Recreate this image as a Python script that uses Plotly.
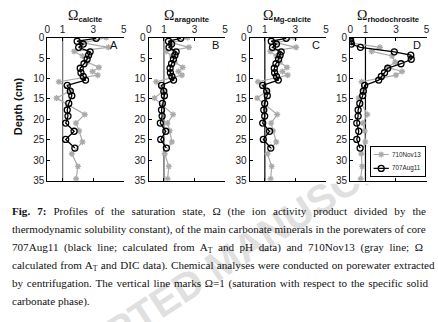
import plotly.graph_objects as go

# Depths (cm) of the two porewater profiles
depth_707 = [0.2, 0.9, 1.6, 2.4, 3.5, 4.3, 5.3, 6.4, 7.5, 8.6, 9.5, 10.4,
             11.7, 13.1, 14.2, 16.1, 17.7, 19.2, 20.9, 22.9, 24.9, 27.0]
depth_710 = [0.0, 1.3, 2.4, 3.4, 4.5, 6.0, 7.3, 8.3, 9.2, 10.8, 13.0, 14.8,
             18.8, 20.9, 22.8, 25.5, 28.4, 31.5, 34.5]

# Saturation state, core 707Aug11
calcite_707 = [3.2, 1.95, 2.35, 2.05, 2.8, 2.7, 2.6, 2.4, 2.15, 2.2, 2.35, 2.5,
               1.3, 1.5, 1.6, 1.4, 1.3, 1.35, 1.2, 1.75, 1.2, 1.8]
aragonite_707 = [2.1, 1.3, 1.5, 1.33, 1.8, 1.72, 1.62, 1.5, 1.4, 1.42, 1.52, 1.63,
                 0.84, 0.99, 1.03, 0.9, 0.84, 0.88, 0.76, 1.12, 0.79, 1.16]
mgcalcite_707 = [2.4, 1.42, 1.76, 1.5, 2.07, 2.0, 1.9, 1.73, 1.62, 1.64, 1.76, 1.88,
                 0.86, 1.12, 1.16, 0.99, 0.93, 0.99, 0.86, 1.31, 0.9, 1.39]
rhodo_707 = [0.02, 0.04, 0.08, 0.67, 2.89, 3.97, 4.0, 3.33, 2.46, 2.25, 2.04, 1.87,
             0.95, 0.86, 0.82, 0.63, 0.52, 0.52, 0.43, 0.56, 0.43, 0.65]

# Saturation state, core 710Nov13
calcite_710 = [3.85, 2.35, 4.0, 1.75, 2.3, 2.6, 3.38, 2.95, 3.3, 0.75, 1.5, 0.6,
               2.45, 1.87, 2.08, 2.3, 1.6, 2.0, 1.88]
aragonite_710 = [2.55, 1.55, 2.64, 1.15, 1.52, 1.72, 2.23, 1.95, 2.18, 0.49, 0.99, 0.38,
                 1.6, 1.23, 1.38, 1.52, 1.05, 1.32, 1.24]
mgcalcite_710 = [2.98, 1.8, 3.05, 1.35, 1.75, 1.98, 2.45, 2.15, 2.5, 0.55, 1.14, 0.5,
                 1.81, 1.41, 1.54, 1.75, 1.17, 1.45, 1.38]
rhodo_710 = [0.05, 0.1, 1.95, 1.4, 2.75, 2.95, 2.45, 3.4, 3.0, 0.75, 0.9, 0.55,
             1.12, 0.84, 0.95, 0.99, 0.73, 0.78, 0.69]

minerals = ["calcite", "aragonite", "Mg-calcite", "rhodochrosite"]
panel_letters = ["A", "B", "C", "D"]
series_707 = [calcite_707, aragonite_707, mgcalcite_707, rhodo_707]
series_710 = [calcite_710, aragonite_710, mgcalcite_710, rhodo_710]
legend_names = ["710Nov13", "707Aug11"]
x_ticks = [0, 1, 3, 5]
y_ticks = [0, 5, 10, 15, 20, 25, 30, 35]
saturation = 1

W, H = 438, 322
panel_left = [45, 147.7, 250, 352]
panel_width = 77.4
plot_top, plot_bottom = 33.7, 182.0
sat_line_colors = ["#6e6e6e", "#4a4a4a", "#000000", "#000000"]

GRAY = "#aaaaaa"
sans = "Arial, Liberation Sans, sans-serif"
serif = "Liberation Serif, Times New Roman, serif"
tick_font = dict(family=sans, size=10, color="#222")

gray_line = dict(color=GRAY, width=1.2)
gray_marker = dict(symbol="asterisk-open", size=5, color=GRAY,
                   line=dict(color=GRAY, width=1.3))
black_line = dict(color="#000000", width=1.3)
black_marker = dict(symbol="circle-open", size=6, color="#000000",
                    line=dict(color="#000000", width=1.3))

fig = go.Figure()

# Faint page stamp behind the caption, masked above by the white figure area
fig.add_shape(type="rect", xref="paper", yref="paper",
              x0=100 / W, x1=344 / W, y0=1 - 322 / H, y1=1 - 202 / H,
              line=dict(width=0), fillcolor="rgba(0,0,0,0)", layer="below",
              label=dict(text="<b>ACCEPTED MANUSCRIPT</b>", textangle=-33,
                         textposition="middle center",
                         font=dict(family=sans, size=40, color="#e0e0e0")))
fig.add_shape(type="rect", xref="paper", yref="paper",
              x0=0, x1=1, y0=1 - 185 / H, y1=1,
              line=dict(width=0), fillcolor="white", layer="below")

for i in range(4):
    xa = "x" if i == 0 else f"x{i+1}"
    ya = "y" if i == 0 else f"y{i+1}"
    fig.add_trace(go.Scatter(
        x=series_710[i], y=depth_710, xaxis=xa, yaxis=ya, mode="lines+markers",
        name=legend_names[0], showlegend=False, line=gray_line, marker=gray_marker))
    fig.add_trace(go.Scatter(
        x=series_707[i], y=depth_707, xaxis=xa, yaxis=ya, mode="lines+markers",
        name=legend_names[1], showlegend=False, line=black_line, marker=black_marker))
    x0 = panel_left[i] / W
    x1 = (panel_left[i] + panel_width) / W
    ydom = [1 - plot_bottom / H, 1 - plot_top / H]
    axis_common = dict(showgrid=False, zeroline=False, linecolor="#000",
                       linewidth=1, ticks="inside", ticklen=3, tickcolor="#000",
                       tickfont=tick_font)
    fig.layout["xaxis" if i == 0 else f"xaxis{i+1}"] = dict(
        domain=[x0, x1], range=[0, 5], tickvals=x_ticks, side="top",
        anchor=ya, showline=True, mirror="ticks", **axis_common)
    fig.layout["yaxis" if i == 0 else f"yaxis{i+1}"] = dict(
        domain=ydom, range=[35, 0], tickvals=y_ticks, anchor=xa,
        showline=True, mirror=False, **axis_common)
    # right-hand tick marks without a spine
    fig.layout[f"yaxis{i+5}"] = dict(
        overlaying=ya, side="right", anchor=xa, range=[35, 0], tickvals=y_ticks,
        showline=False, showticklabels=False, **axis_common)
    # Omega = 1 reference line
    fig.add_shape(type="line", xref=xa, yref=ya, x0=saturation, x1=saturation,
                  y0=35, y1=0, line=dict(color=sat_line_colors[i], width=1.2),
                  layer="below")
    # Panel title
    fig.add_annotation(
        xref="paper", yref="paper", x=(panel_left[i] + panel_width / 2) / W,
        y=1 - 11.5 / H, showarrow=False, xanchor="center", yanchor="middle",
        text=(f"<span style='font-family:Liberation Serif;font-size:14px'>Ω</span>"
              f"<sub><b>{minerals[i]}</b></sub>"),
        font=dict(family=sans, size=11, color="#111"))
    # Panel letter
    fig.add_annotation(
        xref="paper", yref="paper", x=(panel_left[i] + panel_width - 4) / W,
        y=1 - 41.5 / H, showarrow=False, xanchor="right", yanchor="middle",
        text=panel_letters[i], font=dict(family=sans, size=11, color="#111"))

# Legend box inside panel D
lg_x0, lg_x1, lg_y0, lg_y1 = 373, 428, 147, 177
fig.layout["xaxis9"] = dict(domain=[lg_x0 / W, lg_x1 / W], range=[0, 1],
                            showgrid=False, zeroline=False, showticklabels=False,
                            ticks="", showline=True, mirror=True, linecolor="#000",
                            linewidth=1, anchor="y9", fixedrange=True)
fig.layout["yaxis9"] = dict(domain=[1 - lg_y1 / H, 1 - lg_y0 / H], range=[0, 1],
                            showgrid=False, zeroline=False, showticklabels=False,
                            ticks="", showline=True, mirror=True, linecolor="#000",
                            linewidth=1, anchor="x9", fixedrange=True)
legend_rows = [0.74, 0.26]
legend_styles = [(gray_line, gray_marker), (black_line, black_marker)]
for name, row, (ln, mk) in zip(legend_names, legend_rows, legend_styles):
    fig.add_trace(go.Scatter(
        x=[0.05, 0.19, 0.33], y=[row] * 3, xaxis="x9", yaxis="y9",
        mode="lines", line=ln, showlegend=False, hoverinfo="skip"))
    fig.add_trace(go.Scatter(
        x=[0.19], y=[row], xaxis="x9", yaxis="y9", mode="markers",
        marker=mk, showlegend=False, hoverinfo="skip"))
    fig.add_annotation(
        xref="x9", yref="y9", x=0.36, y=row, showarrow=False, xanchor="left",
        yanchor="middle", text=name, font=dict(family=sans, size=6.3, color="#222"))

fig.add_annotation(
    xref="paper", yref="paper", x=16 / W, y=1 - 105 / H, showarrow=False,
    textangle=-90, xanchor="center", yanchor="middle", text="<b>Depth (cm)</b>",
    font=dict(family=sans, size=11, color="#111"))

caption_lines = [
    "<b>Fig. 7:</b> Profiles of the saturation state, Ω (the ion activity product divided by the",
    "thermodynamic solubility constant), of the main carbonate minerals in the porewaters of core",
    "707Aug11 (black line; calculated from A<sub>T</sub> and pH data) and 710Nov13 (gray line; Ω",
    "calculated from A<sub>T</sub> and DIC data). Chemical analyses were conducted on porewater extracted",
    "by centrifugation. The vertical line marks Ω=1 (saturation with respect to the specific solid",
    "carbonate phase).",
]
caption_word_spacing = [4.2, 0, 2.8, 0.6, 1.0, 0]
for k, line in enumerate(caption_lines):
    fig.add_annotation(
        xref="paper", yref="paper", x=7 / W, y=1 - (214 + 18.6 * k) / H,
        showarrow=False, xanchor="left", yanchor="middle",
        text=f"<span style='word-spacing:{caption_word_spacing[k]}px'>{line}</span>",
        font=dict(family=serif, size=11.1, color="#111"))

fig.update_layout(
    width=W, height=H, margin=dict(l=0, r=0, t=0, b=0),
    paper_bgcolor="white", plot_bgcolor="white", showlegend=False,
)

fig.write_html("out.html")
